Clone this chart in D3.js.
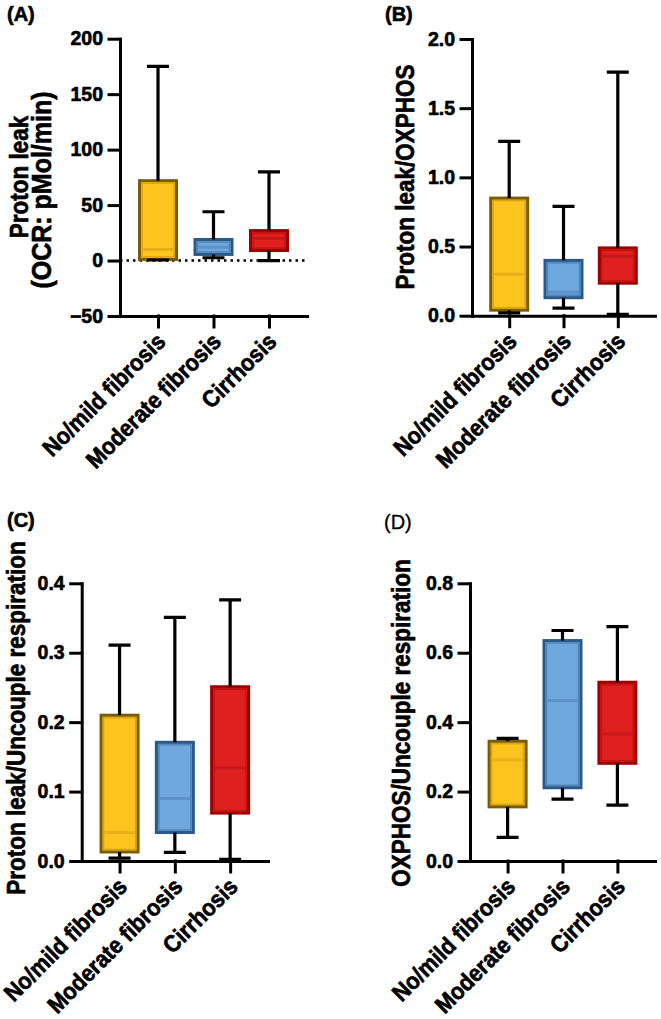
<!DOCTYPE html>
<html>
<head>
<meta charset="utf-8">
<script src="https://cdn.jsdelivr.net/npm/d3@7/dist/d3.min.js"></script>
<style>
  body { margin: 0; background: #fff; }
  text { font-family: "Liberation Sans", Arial, sans-serif; font-weight: bold; fill: #000; stroke: #000; stroke-width: 0.6px; }
</style>
</head>
<body>
<div id="container"></div>
<script>
// groups on the x axis
const categories = ["No/mild fibrosis", "Moderate fibrosis", "Cirrhosis"];

// box values per group: [min, q1, median, q3, max]
const protonLeakOCR = [[0.5, 1, 10, 72, 175], [2.5, 5.5, 12, 19, 44], [0, 9, 20, 27, 80]];
const protonLeakOxphos = [[0.02, 0.04, 0.30, 0.85, 1.26], [0.055, 0.13, 0.17, 0.40, 0.79], [0.01, 0.235, 0.43, 0.49, 1.76]];
const protonLeakUncouple = [[0.004, 0.013, 0.041, 0.21, 0.311], [0.0125, 0.041, 0.090, 0.171, 0.351], [0.0025, 0.069, 0.134, 0.251, 0.376]];
const oxphosUncouple = [[0.068, 0.156, 0.291, 0.345, 0.353], [0.178, 0.211, 0.462, 0.635, 0.664], [0.161, 0.2815, 0.366, 0.515, 0.675]];

// tick labels
const ticksA = [-50, 0, 50, 100, 150, 200];
const ticksB = [0, 0.5, 1.0, 1.5, 2.0];
const ticksC = [0, 0.1, 0.2, 0.3, 0.4];
const ticksD = [0, 0.2, 0.4, 0.6, 0.8];

const fill = ["#FDC41F", "#6FA8DC", "#E0201F"];
const edge = ["#7A5C00", "#2C5A88", "#A00000"];
const inner = ["#D9A514", "#4F86BA", "#BF1414"];
const medianCol = ["#E9AF18", "#5B93C8", "#C51818"];

const svg = d3.select("#container").append("svg")
    .attr("width", 661)
    .attr("height", 1019);

const panels = [
    {tag: "(A)", tagX: 7, tagY: 21, tagW: "bold", data: protonLeakOCR, ticks: ticksA, fmt: d3.format("d"),
     x0: 120, x1: 307, top: 38.7, bot: 316, zero: true,
     labels: [{t: "Proton leak", x: 28, y: 177, fs: 22.5}, {t: "(OCR: pMol/min)", x: 51, y: 190, fs: 25}]},
    {tag: "(B)", tagX: 385, tagY: 21, tagW: "bold", data: protonLeakOxphos, ticks: ticksB, fmt: d3.format(".1f"),
     x0: 472, x1: 655, top: 39, bot: 315.7, zero: false,
     labels: [{t: "Proton leak/OXPHOS", x: 414, y: 177, fs: 22.5}]},
    {tag: "(C)", tagX: 7, tagY: 527, tagW: "bold", data: protonLeakUncouple, ticks: ticksC, fmt: d3.format(".1f"),
     x0: 81.7, x1: 268, top: 583.3, bot: 861, zero: false,
     labels: [{t: "Proton leak/Uncouple respiration", x: 25, y: 718, fs: 22.5}]},
    {tag: "(D)", tagX: 384, tagY: 529, tagW: "normal", data: oxphosUncouple, ticks: ticksD, fmt: d3.format(".1f"),
     x0: 470, x1: 655, top: 583.3, bot: 861, zero: false,
     labels: [{t: "OXPHOS/Uncouple respiration", x: 410, y: 723, fs: 22.5}]}
];

panels.forEach(drawPanel);

function drawPanel(p) {
    const g = svg.append("g");
    const x = d3.scalePoint().domain(categories).range([p.x0, p.x1]).padding(0.685);
    const y = d3.scaleLinear().domain([p.ticks[0], p.ticks[p.ticks.length - 1]]).range([p.bot, p.top]);
    const bw = 37, cap = 22;

    g.append("text")
        .attr("x", p.tagX).attr("y", p.tagY)
        .style("font-size", "20px")
        .style("font-weight", p.tagW)
        .style("stroke-width", p.tagW == "bold" ? "0.6px" : "0.3px")
        .text(p.tag);

    p.labels.forEach(function(l) {
        g.append("text")
            .attr("transform", `translate(${l.x},${l.y}) rotate(-90) scale(1,1.12)`)
            .attr("text-anchor", "middle")
            .style("font-size", l.fs + "px")
            .text(l.t);
    });

    if (p.zero) {
        g.append("line")
            .attr("x1", p.x0).attr("x2", p.x1)
            .attr("y1", y(0)).attr("y2", y(0))
            .attr("stroke", "#000").attr("stroke-width", 2.5)
            .attr("stroke-dasharray", "2.5,4");
    }

    const box = g.selectAll(".box")
        .data(p.data)
        .enter()
        .append("g")
        .attr("class", "box")
        .attr("transform", (d, i) => `translate(${x(categories[i])},0)`);

    box.append("rect")
        .attr("x", -bw / 2).attr("width", bw)
        .attr("y", d => y(d[3])).attr("height", d => y(d[1]) - y(d[3]))
        .attr("fill", (d, i) => fill[i])
        .attr("stroke", (d, i) => edge[i]).attr("stroke-width", 3);
    box.append("rect")
        .attr("x", -bw / 2 + 2.5).attr("width", bw - 5)
        .attr("y", d => y(d[3]) + 2.5).attr("height", d => Math.max(0, y(d[1]) - y(d[3]) - 5))
        .attr("fill", "none")
        .attr("stroke", (d, i) => inner[i]).attr("stroke-width", 1.5);
    box.append("line")
        .attr("x1", -bw / 2 + 3).attr("x2", bw / 2 - 3)
        .attr("y1", d => y(d[2])).attr("y2", d => y(d[2]))
        .attr("stroke", (d, i) => medianCol[i]).attr("stroke-width", 3);

    // whiskers and caps
    box.append("path")
        .attr("d", d => `M0,${y(d[3])}V${y(d[4])}M${-cap / 2},${y(d[4])}H${cap / 2}` +
                        `M0,${y(d[1])}V${y(d[0])}M${-cap / 2},${y(d[0])}H${cap / 2}`)
        .attr("fill", "none")
        .attr("stroke", "#000").attr("stroke-width", 3.2);

    const yAxis = d3.axisLeft(y).tickValues(p.ticks).tickFormat(p.fmt)
        .tickSize(11).tickSizeOuter(0).tickPadding(6);
    const ya = g.append("g").attr("transform", `translate(${p.x0},0)`).call(yAxis);
    ya.selectAll("text").style("font-size", "19.5px").style("font-family", null)
        .attr("fill", null);

    const xAxis = d3.axisBottom(x).tickSize(11).tickSizeOuter(0).tickFormat("");
    g.append("g").attr("transform", `translate(0,${p.bot})`).call(xAxis);

    g.selectAll(".domain, .tick line")
        .attr("stroke", "#000").attr("stroke-width", 3)
        .attr("stroke-linecap", "square");

    g.selectAll(".xlab")
        .data(categories)
        .enter()
        .append("text")
        .attr("class", "xlab")
        .attr("text-anchor", "end")
        .attr("transform", d => `translate(${x(d) + 9},${p.bot + 27}) rotate(-45) scale(1,1.1)`)
        .style("font-size", "21.5px")
        .text(d => d);
}
</script>
</body>
</html>
